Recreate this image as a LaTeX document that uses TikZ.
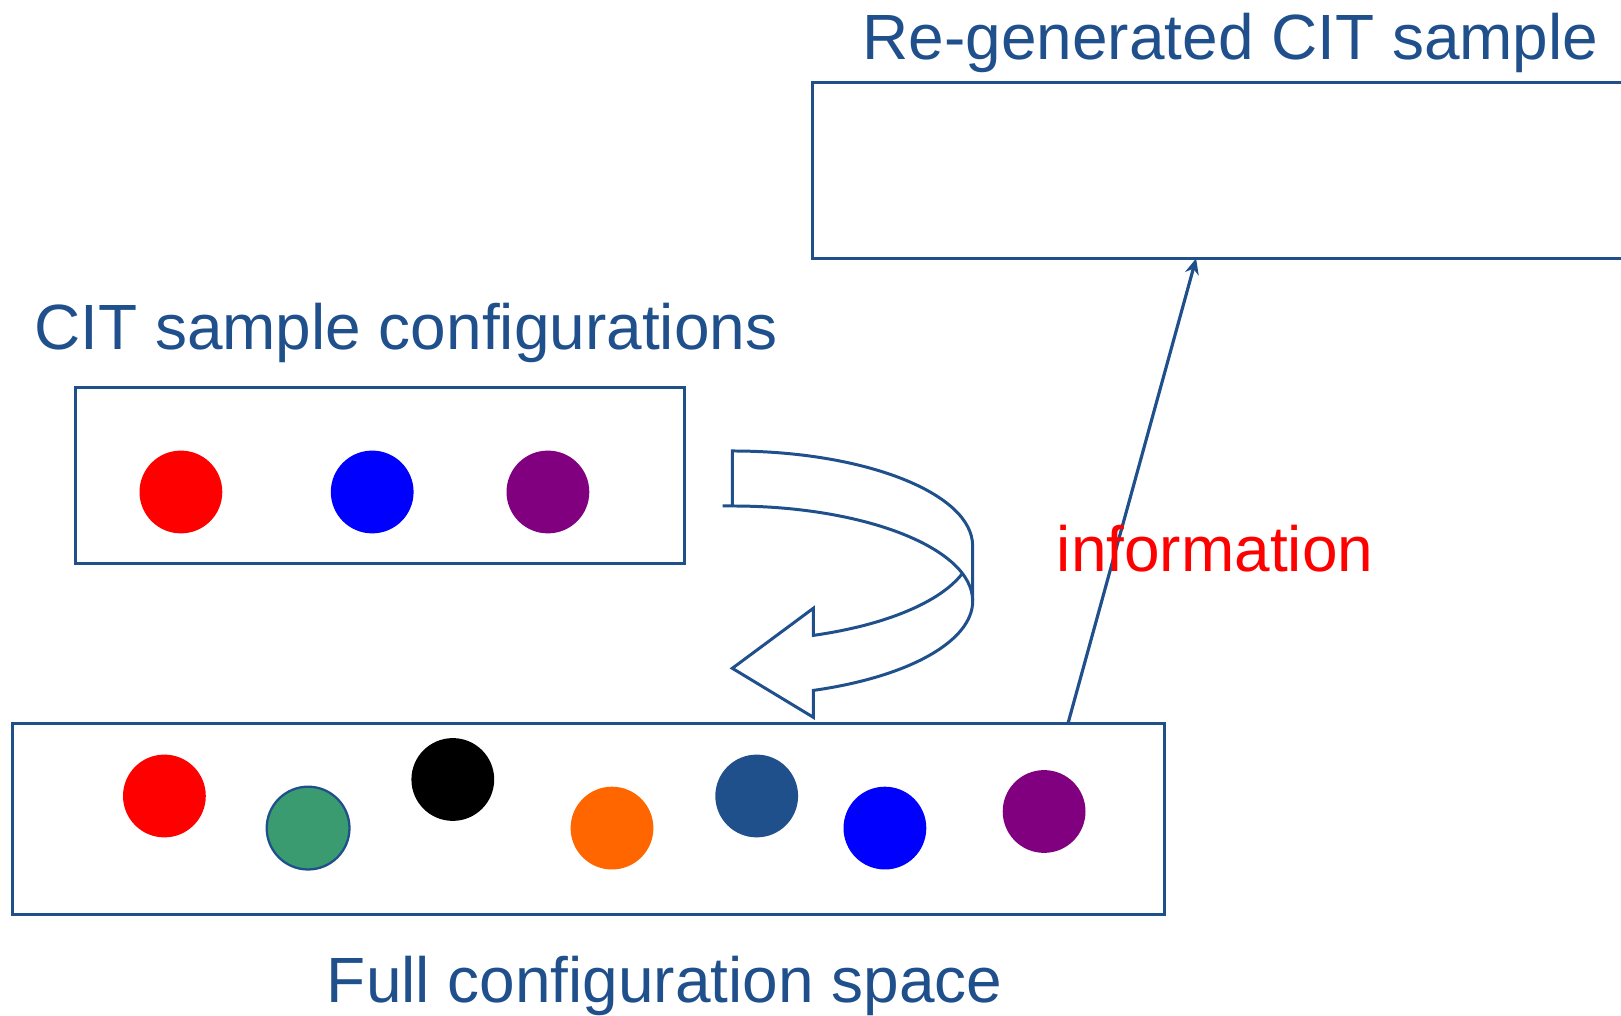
\documentclass[tikz,border=0pt]{standalone}
\usepackage{fontspec}
\setmainfont{Liberation Sans}
\usetikzlibrary{arrows.meta, positioning}

\definecolor{deepblue}{RGB}{31,80,140}
\definecolor{seagreen}{RGB}{58,155,112}
\definecolor{orangish}{RGB}{255,102,0}
\definecolor{plum}{RGB}{128,0,128}

\begin{document}
\begin{tikzpicture}[x=0.02cm, y=0.02cm]
    \tikzstyle{box} = [draw=deepblue, line width=1.7pt, rectangle, inner sep=0];
    \tikzstyle{dot} = [circle, inner sep=0, minimum size=1.656cm];
    \tikzstyle{label} = [text=deepblue, inner sep=0, font=\fontsize{36.4}{43}\selectfont];

    \useasboundingbox (0, 0) rectangle (1621, 1016);

    \node[box, minimum width=16.55cm, minimum height=3.516cm] (regen) at (1226.3, 845.4) {};
    \node[label, anchor=base] (regentitle) at (1230.5, 956) {Re-generated CIT sample};

    \node[box, minimum width=12.178cm, minimum height=3.514cm] (cit) at (379.95, 540.45) {};
    \node[label, anchor=base west] (cittitle) at (34, 666.5) {CIT sample configurations};

    \node[dot, fill=red] (c1) at (180.9, 524) {};
    \node[dot, fill=blue] (c2) at (372.2, 524) {};
    \node[dot, fill=plum] (c3) at (547.9, 524) {};

    \node[box, minimum width=23.052cm, minimum height=3.824cm] (full) at (588.7, 196.7) {};
    \node[label, anchor=base] (fulltitle) at (664.7, 13.2) {Full configuration space};

    \node[dot, fill=red] (f1) at (164.4, 220) {};
    \node[dot, fill=seagreen, draw=deepblue, line width=1.3pt] (f2) at (308.1, 187.9) {};
    \node[dot, fill=black] (f3) at (452.8, 236.5) {};
    \node[dot, fill=orangish] (f4) at (612, 187.9) {};
    \node[dot, fill=deepblue] (f5) at (756.7, 220) {};
    \node[dot, fill=blue] (f6) at (884.9, 187.9) {};
    \node[dot, fill=plum] (f7) at (1044.1, 204.5) {};

    \coordinate (infofrom) at (1067.9, 292.3);
    \coordinate (infoto) at (1196.1, 757.5);
    \draw[deepblue, line width=1.8pt, -{Stealth[length=9pt, width=8pt]}] (infofrom) -- (infoto);
    \node[label, text=red, anchor=base west] (info) at (1056.5, 444.3) {information};

    \draw[deepblue, line width=1.7pt, line join=miter]
        (732.3, 510) -- (732.3, 565)
        arc[start angle=90, end angle=0, x radius=4.808cm, y radius=1.9cm]
        -- (972.7, 415)
        arc[start angle=0, end angle=-70.3, x radius=4.808cm, y radius=1.9cm]
        -- (813.3, 298.7) -- (732.3, 347.7) -- (813.3, 407.7) -- (813.3, 380.6)
        arc[start angle=-70.3, end angle=-16.8, x radius=4.808cm, y radius=1.9cm];
    \draw[deepblue, line width=1.7pt]
        (722.7, 510) -- (732.3, 510)
        arc[start angle=90, end angle=0, x radius=4.808cm, y radius=1.9cm];
\end{tikzpicture}
\end{document}
